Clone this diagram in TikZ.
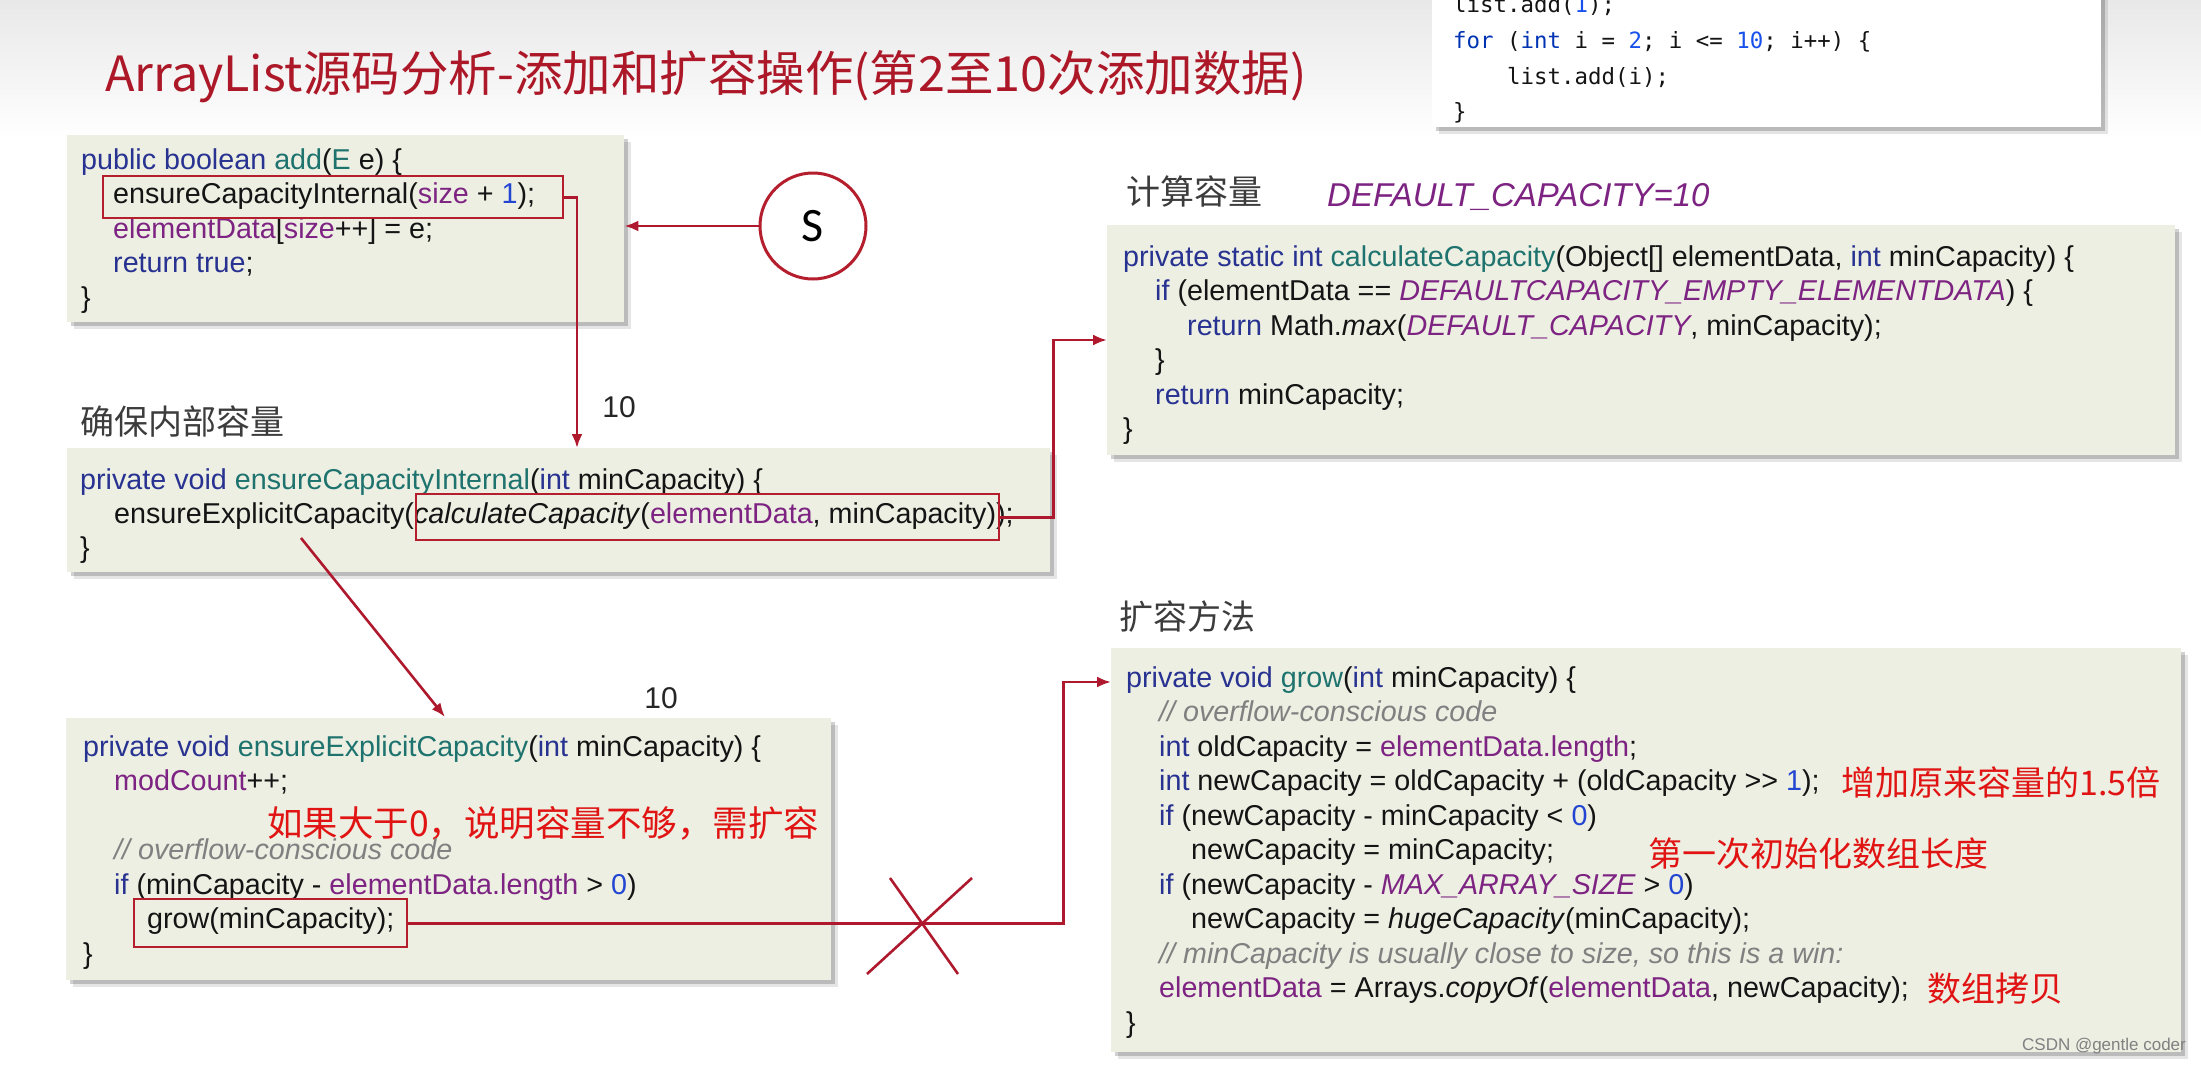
\documentclass[tikz,border=0pt]{standalone}
\usepackage{fontspec}
\setmainfont{Liberation Sans}[Ligatures=TeXOff]
\newfontfamily\cjk{Noto Sans CJK SC}
\newfontfamily\mono{DejaVu Sans Mono}
\newfontfamily\carl{Carlito}
\usetikzlibrary{arrows.meta,calc}
\definecolor{kw}{RGB}{40,50,145}
\definecolor{fn}{RGB}{30,115,110}
\definecolor{fld}{RGB}{125,35,130}
\definecolor{nmb}{RGB}{35,70,210}
\definecolor{cmtc}{RGB}{128,128,128}
\definecolor{txt}{RGB}{20,20,20}
\definecolor{connred}{RGB}{175,25,45}
\definecolor{boxred}{RGB}{180,30,45}
\definecolor{notered}{RGB}{225,20,20}
\definecolor{titlered}{RGB}{172,24,40}
\definecolor{labgray}{RGB}{60,60,60}
\definecolor{boxfill}{RGB}{237,239,227}
\definecolor{mkw}{RGB}{0,51,179}
\definecolor{mnum}{RGB}{23,80,235}
\newcommand\ccK[1]{\textcolor{kw}{#1}}
\newcommand\ccF[1]{\textcolor{fn}{#1}}
\newcommand\ccV[1]{\textcolor{fld}{#1}}
\newcommand\ccN[1]{\textcolor{nmb}{#1}}
\newcommand\ccC[1]{\textcolor{cmtc}{\itshape #1}}
\newcommand\tmK[1]{\textcolor{mkw}{#1}}
\newcommand\tmN[1]{\textcolor{mnum}{#1}}
\newcommand\codefont{\fontsize{28.7}{34}\selectfont}
\begin{document}
\begin{tikzpicture}[x=1pt,y=-1pt,
  codebox/.style={anchor=north west, inner sep=0, fill=boxfill,
    preaction={fill=black, opacity=.10, transform canvas={shift={(7pt,-7pt)}}},
    preaction={fill=black, opacity=.18, transform canvas={shift={(4pt,-4pt)}}}},
  redbox/.style={draw=boxred, line width=2.4pt, inner sep=0, anchor=north west},
  conn/.style={draw=connred, line width=2.6pt, -{Latex[length=14pt,width=11pt]}},
  xline/.style={draw=connred, line width=2.6pt},
  code/.style={anchor=base west, inner sep=0, font=\codefont, text=txt},
  mcode/.style={anchor=base west, inner sep=0, font=\mono\fontsize{22.4}{27}\selectfont, text=txt},
  cjklab/.style={anchor=base west, inner sep=0, font=\cjk\fontsize{34}{40}\selectfont, text=labgray},
  rednote/.style={anchor=base west, inner sep=0, font=\cjk\fontsize{34}{40}\selectfont, text=notered},
  numlab/.style={inner sep=0, font=\fontsize{30}{36}\selectfont, text=black!85}
]
\useasboundingbox (0,0) rectangle (2201,1066);
\clip (0,0) rectangle (2201,1066);
\fill[white] (0,0) rectangle (2201,1066);
\shade[top color=black!9, bottom color=white] (0,0) rectangle (2201,140);

% title
\node[anchor=base west, inner sep=0, font=\cjk\fontsize{48.5}{56}\selectfont, text=titlered] (title) at (105,91)
  {ArrayList源码分析-添加和扩容操作(第2至10次添加数据)};

% top right code
\node[codebox, fill=white, minimum width=669pt, minimum height=147pt] (topbox) at (1432,-20) {};
\node[mcode] (t1) at (1453,12) {list.add(\tmN{1});};
\node[mcode] (t2) at (1453,48) {\tmK{for} (\tmK{int} i = \tmN{2}; i <= \tmN{10}; i++) \{};
\node[mcode] (t3) at (1507,84) {list.add(i);};
\node[mcode] (t4) at (1453,119) {\}};

% box 1
\node[codebox, minimum width=557pt, minimum height=187pt] (box1) at (67,135) {};
\node[code] (b1a) at (81,169) {\ccK{public boolean} \ccF{add}(\ccF{E} e) \{};
\node[code] (b1b) at (113,203.5) {ensureCapacityInternal(\ccV{size} + \ccN{1});};
\node[code] (b1c) at (113,238) {\ccV{elementData}[\ccV{size}++] = e;};
\node[code] (b1d) at (113,272.5) {\ccK{return true};};
\node[code] (b1e) at (81,307) {\}};
\node[redbox, minimum width=460pt, minimum height=42pt] (rb1) at (102,175) {};

% S
\node[circle, draw=boxred, line width=3pt, fill=white, minimum size=106pt, inner sep=0,
  font=\carl\fontsize{48}{56}\selectfont] (S) at (813,226) {S};

% box 2
\node[cjklab] (lab1) at (80,434) {确保内部容量};
\node[numlab] (n10a) at (619,407) {10};
\node[codebox, minimum width=983pt, minimum height=124pt] (box2) at (67,448) {};
\node[code] (b2a) at (80,489) {\ccK{private void} \ccF{ensureCapacityInternal}(\ccK{int} minCapacity) \{};
\node[code] (b2b) at (114,523) {ensureExplicitCapacity(\textit{calculateCapacity}(\ccV{elementData}, minCapacity));};
\node[code] (b2c) at (80,557) {\}};
\node[redbox, minimum width=583pt, minimum height=46pt] (rb2) at (415,493) {};

% box 3
\node[cjklab] (lab2) at (1126,204) {计算容量};
\node[anchor=base west, inner sep=0, font=\fontsize{33}{40}\selectfont\itshape, text=fld] (defcap) at (1327,206) {DEFAULT\_CAPACITY=10};
\node[codebox, minimum width=1068pt, minimum height=230pt] (box3) at (1107,225) {};
\node[code] (b3a) at (1123,266) {\ccK{private static int} \ccF{calculateCapacity}(Object[] elementData, \ccK{int} minCapacity) \{};
\node[code] (b3b) at (1155,300.5) {\ccK{if} (elementData == \ccV{\itshape DEFAULTCAPACITY\_EMPTY\_ELEMENTDATA}) \{};
\node[code] (b3c) at (1187,335) {\ccK{return} Math.\textit{max}(\ccV{\itshape DEFAULT\_CAPACITY}, minCapacity);};
\node[code] (b3d) at (1155,369.5) {\}};
\node[code] (b3e) at (1155,404) {\ccK{return} minCapacity;};
\node[code] (b3f) at (1123,438.5) {\}};

% box 4
\node[numlab] (n10b) at (661,698) {10};
\node[codebox, minimum width=765pt, minimum height=262pt] (box4) at (66,718) {};
\node[code] (b4a) at (83,756) {\ccK{private void} \ccF{ensureExplicitCapacity}(\ccK{int} minCapacity) \{};
\node[code] (b4b) at (114,790.5) {\ccV{modCount}++;};
\node[rednote, font=\cjk\fontsize{35.5}{40}\selectfont] (note4) at (267,836) {如果大于0，说明容量不够，需扩容};
\node[code] (b4c) at (114,859.5) {\ccC{// overflow-conscious code}};
\node[code] (b4d) at (114,894) {\ccK{if} (minCapacity - \ccV{elementData.length} > \ccN{0})};
\node[code] (b4e) at (147,928.5) {grow(minCapacity);};
\node[code] (b4f) at (83,963) {\}};
\node[redbox, minimum width=273pt, minimum height=48pt] (rb3) at (133,898) {};

% box 5
\node[cjklab] (lab3) at (1119,629) {扩容方法};
\node[codebox, minimum width=1070pt, minimum height=404pt] (box5) at (1111,648) {};
\node[code] (b5a) at (1126,687) {\ccK{private void} \ccF{grow}(\ccK{int} minCapacity) \{};
\node[code] (b5b) at (1159,721.5) {\ccC{// overflow-conscious code}};
\node[code] (b5c) at (1159,756) {\ccK{int} oldCapacity = \ccV{elementData.length};};
\node[code] (b5d) at (1159,790.5) {\ccK{int} newCapacity = oldCapacity + (oldCapacity >> \ccN{1});};
\node[code] (b5e) at (1159,825) {\ccK{if} (newCapacity - minCapacity < \ccN{0})};
\node[code] (b5f) at (1191,859.5) {newCapacity = minCapacity;};
\node[code] (b5g) at (1159,894) {\ccK{if} (newCapacity - \ccV{\itshape MAX\_ARRAY\_SIZE} > \ccN{0})};
\node[code] (b5h) at (1191,928.5) {newCapacity = \textit{hugeCapacity}(minCapacity);};
\node[code] (b5i) at (1159,963) {\ccC{// minCapacity is usually close to size, so this is a win:}};
\node[code] (b5j) at (1159,997.5) {\ccV{elementData} = Arrays.\textit{copyOf}(\ccV{elementData}, newCapacity);};
\node[code] (b5k) at (1126,1032) {\}};
\node[rednote] (n5a) at (1841,795) {增加原来容量的1.5倍};
\node[rednote] (n5b) at (1648,866) {第一次初始化数组长度};
\node[rednote] (n5c) at (1927,1001) {数组拷贝};
\node[inner sep=0, font=\fontsize{17}{20}\selectfont, text=black!50] (wm) at (2104,1046) {CSDN @gentle coder};

% connectors
\coordinate (t1c) at (577,448);
\draw[conn] (rb1.east) -| (t1c);
\draw[conn] (S.west) -- (S.west -| box1.east);
\coordinate (t2c) at (1107,340);
\draw[conn] (rb2.east) -- ++(53,0) |- (t2c);
\coordinate (s3) at (301,538);
\coordinate (t3c) at (445,717);
\draw[conn] (s3) -- (t3c);
\coordinate (t4c) at (1111,682);
\draw[conn] (rb3.east) -- ++(655,0) |- (t4c);

% cross
\coordinate (xa) at (890,878); \coordinate (xb) at (958,974);
\coordinate (xc) at (867,974); \coordinate (xd) at (972,878);
\draw[xline] (xa) -- (xb);
\draw[xline] (xc) -- (xd);
\end{tikzpicture}
\end{document}
